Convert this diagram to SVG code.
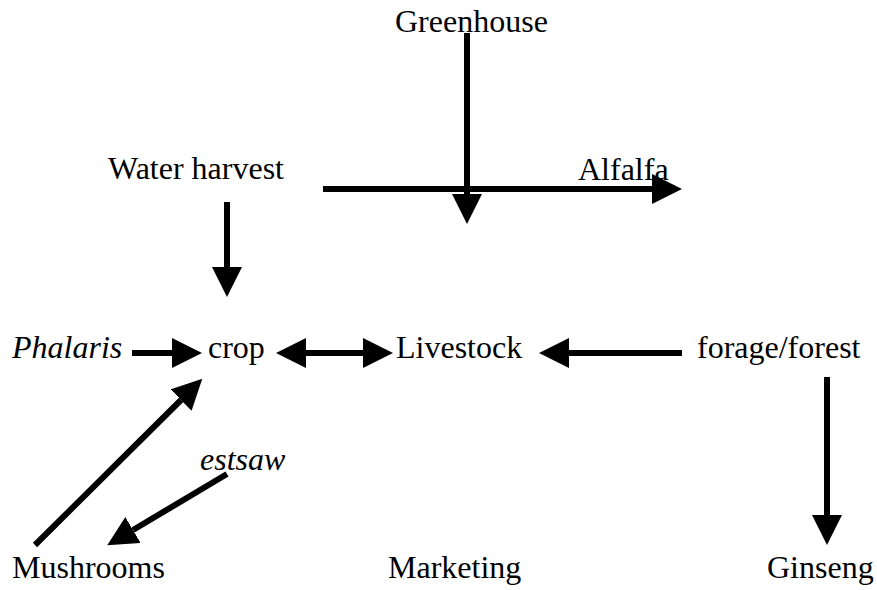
<svg xmlns="http://www.w3.org/2000/svg" width="877" height="590" viewBox="0 0 877 590">
<style>
text{font-family:'Liberation Serif', 'Times New Roman', Times, serif;font-size:32px;fill:#000}
.it{font-style:italic}
.c line{stroke:#000;stroke-width:6;fill:none;marker-end:url(#ah)}
.c line.both{marker-start:url(#ahs)}
</style>
<defs>
<marker id="ah" viewBox="0 0 5 5" markerWidth="5" markerHeight="5" refX="0" refY="2.5" orient="auto" markerUnits="strokeWidth"><path d="M0,0L5,2.5L0,5z" fill="#000"/></marker>
<marker id="ahs" viewBox="0 0 5 5" markerWidth="5" markerHeight="5" refX="0" refY="2.5" orient="auto-start-reverse" markerUnits="strokeWidth"><path d="M0,0L5,2.5L0,5z" fill="#000"/></marker>
</defs>
<rect width="877" height="590" fill="#fff"/>
<g font-family="Liberation Serif, serif">
<g id="greenhouse"><text x="395" y="32">Greenhouse</text></g>
<g id="water-harvest"><text x="108" y="179">Water harvest</text></g>
<g id="alfalfa"><text x="578" y="180">Alfalfa</text></g>
<g id="phalaris"><text class="it" x="12" y="358">Phalaris</text></g>
<g id="crop"><text x="208" y="358">crop</text></g>
<g id="livestock"><text x="396" y="358">Livestock</text></g>
<g id="forage-forest"><text x="697" y="358">forage/forest</text></g>
<g id="estsaw"><text class="it" x="200" y="470">estsaw</text></g>
<g id="mushrooms"><text x="12" y="578">Mushrooms</text></g>
<g id="marketing"><text x="388" y="578">Marketing</text></g>
<g id="ginseng"><text x="767" y="578">Ginseng</text></g>
</g>
<g id="connectors" class="c">
<line x1="467" y1="33" x2="467" y2="194"/>
<line x1="323" y1="189" x2="652" y2="189"/>
<line x1="227" y1="202" x2="227" y2="267"/>
<line x1="132" y1="353" x2="172" y2="353"/>
<line class="both" x1="306" y1="353" x2="363" y2="353"/>
<line x1="682" y1="353" x2="569" y2="353"/>
<line x1="827" y1="377" x2="827" y2="515"/>
<line x1="35" y1="545" x2="181" y2="400"/>
<line x1="227" y1="474" x2="133" y2="530"/>
</g>
</svg>
